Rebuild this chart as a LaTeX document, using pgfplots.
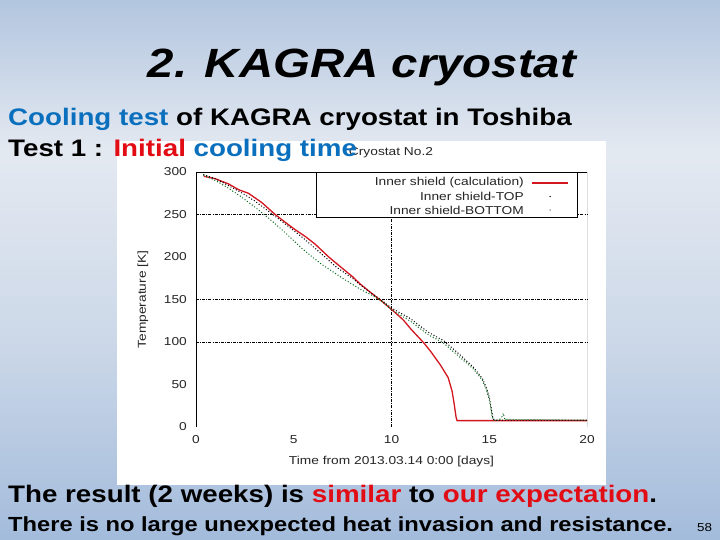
\documentclass[border=0pt]{standalone}
\usepackage{fontspec}
\setmainfont{Liberation Sans}
\usepackage{graphicx}
\usepackage{xcolor}
\usepackage{pgfplots}
\pgfplotsset{compat=1.18}
\definecolor{sblue}{RGB}{10,112,190}
\definecolor{sred}{RGB}{225,12,20}
\definecolor{cred}{RGB}{212,22,32}
\definecolor{cgreen}{RGB}{0,105,20}
\pgfdeclareverticalshading{slidebg}{100bp}{
  rgb(0bp)=(0.64,0.735,0.86);
  rgb(25bp)=(0.64,0.735,0.86);
  rgb(43.5bp)=(0.80,0.847,0.91);
  rgb(61bp)=(0.894,0.914,0.945);
  rgb(75bp)=(0.70,0.775,0.875);
  rgb(100bp)=(0.70,0.775,0.875)}
\newcommand\cf{\fontsize{11.5}{13}\selectfont}
\newcommand\sx[1]{\scalebox{1.2}[1]{#1}}
\begin{document}
\begin{tikzpicture}
\useasboundingbox (0,0) rectangle (720bp,-540bp);
\shade[shading=slidebg] (0,0) rectangle (720bp,-540bp);
\fill[white] (117bp,-141bp) rectangle (606bp,-485bp);
\node[inner sep=0pt, text=black!85] at (391bp,-153bp) {\cf\sx{Cryostat No.2}};
\begin{axis}[
  scale only axis, width=391bp, height=255bp,
  at={(196bp,-427bp)}, anchor=south west,
  xmin=0, xmax=20, ymin=0, ymax=300,
  xtick={0,5,10,15,20}, ytick={0,50,100,150,200,250,300},
  /pgf/number format/assume math mode=true,
  xticklabel={\sx{\pgfmathprintnumber{\tick}}},
  yticklabel={\sx{\pgfmathprintnumber{\tick}}},
  tick label style={font=\cf, text=black!85, inner sep=0pt},
  xticklabel style={yshift=-8bp},
  yticklabel style={xshift=-9bp},
  major tick length=0pt,
  axis line style={draw=none},
  extra x ticks={10}, extra x tick labels={},
  extra y ticks={100,150,250}, extra y tick labels={},
  extra tick style={grid=major, major tick length=0pt},
  major grid style={black, line width=0.6bp, dash pattern=on 3bp off 1.2bp on 0.8bp off 1.2bp},
  xlabel={\sx{Time from 2013.03.14 0:00 [days]}},
  ylabel={\sx{Temperature [K]}},
  every axis x label/.style={at={(axis description cs:0.5,-0.137)}, anchor=center, font=\cf, text=black!85},
  every axis y label/.style={at={(axis description cs:-0.1355,0.5)}, rotate=90, anchor=center, font=\cf, text=black!85},
]
\draw[black, line width=0.6bp] (rel axis cs:0,0) -- (rel axis cs:0,1) -- (rel axis cs:1,1) -- (rel axis cs:1,0);
\addplot[color=cred, line width=1.3bp, line join=round]
coordinates {(0.4,295) (1,292) (1.66,286) (2.2,279) (2.68,275) (3.37,264) (4.05,250) (4.5,242) (5.08,232) (5.6,224) (6.1,215) (6.79,200) (7.47,187) (8,177) (8.41,168) (9,157) (9.5,148) (10.12,136) (10.6,126) (11,115) (11.65,99) (12,89) (12.5,73) (12.9,58) (13.1,42) (13.2,28) (13.3,12) (13.35,7.5) (20,7.5)};
\addplot[black, line width=1.4bp, line cap=round, dash pattern=on 0pt off 3bp]
coordinates {(0.4,297) (1.0,292) (1.66,284) (2.3,276) (3.0,266) (3.7,254) (4.5,240) (5.5,222) (6.6,200) (7.13,189) (8.0,175) (8.41,167) (9.0,157) (9.5,149) (10,140) (11,127) (11.85,112) (12.7,101) (13.55,84) (14.2,70) (14.65,57) (14.87,45) (15,35) (15.1,22) (15.17,12) (15.25,8) (20,8)};
\addplot[cgreen, line width=1.4bp, line cap=round, dash pattern=on 0pt off 3bp]
coordinates {(0.4,296) (1.0,290) (1.66,281) (2.3,271) (3.0,259) (3.7,246) (4.5,230) (5.42,210) (5.95,200) (6.45,191) (7.5,175) (8.41,162) (9.0,155) (9.5,148) (10,138) (11,124) (11.85,109) (12.65,99) (13.5,82) (14.2,68) (14.65,55) (14.87,43) (15,33) (15.1,20) (15.15,12) (15.25,8) (15.5,8) (15.65,12) (15.72,16) (15.8,9) (20,8)};
\end{axis}
% legend
\filldraw[fill=white, draw=black, line width=0.6bp] (316bp,-172bp) rectangle (577bp,-217bp);
\node[anchor=east, inner sep=0pt, text=black!85] at (524bp,-183bp) {\cf\sx{Inner shield (calculation)}};
\node[anchor=east, inner sep=0pt, text=black!85] at (524bp,-196.5bp) {\cf\sx{Inner shield-TOP}};
\node[anchor=east, inner sep=0pt, text=black!85] at (524bp,-210bp) {\cf\sx{Inner shield-BOTTOM}};
\draw[cred, line width=1.4bp] (532bp,-183bp) -- (568bp,-183bp);
\fill[black] (550bp,-196.5bp) circle (0.75bp);
\fill[black!60] (550bp,-210bp) circle (0.75bp);
% slide text
\node[anchor=base, inner sep=0pt] at (362bp,-77bp) {\scalebox{1.16}[1]{\fontsize{41}{41}\selectfont\bfseries\itshape 2. KAGRA cryostat}};
\node[anchor=base west, inner sep=0pt] at (8bp,-125bp) {\scalebox{1.16}[1]{\fontsize{24}{24}\selectfont\bfseries \textcolor{sblue}{Cooling test} of KAGRA cryostat in Toshiba}};
\node[anchor=base west, inner sep=0pt] at (8bp,-156bp) {\scalebox{1.16}[1]{\fontsize{24}{24}\selectfont\bfseries Test 1 : \textcolor{sred}{Initial} \textcolor{sblue}{cooling time}}};
\node[anchor=base west, inner sep=0pt] at (8bp,-502bp) {\scalebox{1.16}[1]{\fontsize{24}{24}\selectfont\bfseries The result (2 weeks) is \textcolor{sred}{similar} to \textcolor{sred}{our expectation}.}};
\node[anchor=base west, inner sep=0pt] at (8bp,-531bp) {\scalebox{1.16}[1]{\fontsize{20.5}{20.5}\selectfont\bfseries There is no large unexpected heat invasion and resistance.}};
\node[anchor=base west, inner sep=0pt] at (697bp,-531bp) {\scalebox{1.16}[1]{\fontsize{11.6}{12}\selectfont 58}};
\end{tikzpicture}
\end{document}
